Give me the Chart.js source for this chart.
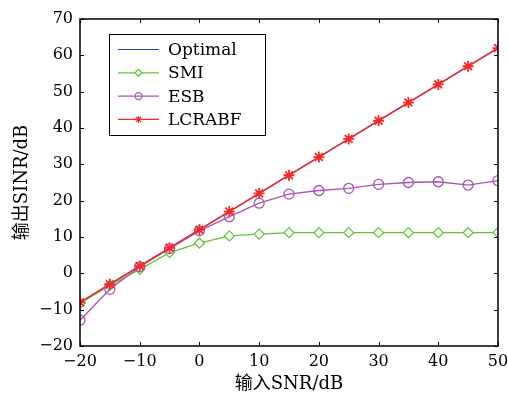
<!DOCTYPE html>
<html>
<head>
<meta charset="utf-8">
<script src="https://cdn.jsdelivr.net/npm/chart.js@4"></script>
<style>
  html, body { margin: 0; padding: 0; background: #fff; }
  #wrap { width: 508px; height: 401px; }
</style>
</head>
<body>
<div id="wrap"><canvas id="snrChart" width="508" height="401"></canvas></div>
<script>
// Data
const snrIn = [-20, -15, -10, -5, 0, 5, 10, 15, 20, 25, 30, 35, 40, 45, 50];
const optimal = [-8, -3, 2, 7, 12, 17, 22, 27, 32, 37, 42, 47, 52, 57, 62];
const smi = [-8.3, -3.3, 1.1, 5.7, 8.3, 10.3, 10.8, 11.2, 11.2, 11.2, 11.2, 11.2, 11.2, 11.2, 11.2];
const esb = [-12.9, -4.4, 1.8, 6.8, 11.7, 15.6, 19.3, 21.8, 22.8, 23.4, 24.5, 25.0, 25.2, 24.3, 25.5];
const lcrabf = [-8, -3, 2, 7, 12, 17, 22, 27, 32, 37, 42, 47, 52, 57, 62];
const seriesNames = ["Optimal", "SMI", "ESB", "LCRABF"];
const xTicks = [-20, -10, 0, 10, 20, 30, 40, 50];
const yTicks = [-20, -10, 0, 10, 20, 30, 40, 50, 60, 70];

const FONT = "'DejaVu Serif', 'Noto Sans CJK SC', serif";
const minus = v => (v < 0 ? "\u2212" + Math.abs(v) : String(v));

const toPts = arr => arr.map((y, i) => ({ x: snrIn[i], y: y }));

// box, inward ticks and legend
const frame = {
  id: "frame",
  afterDraw(chart) {
    const { ctx, chartArea: a, scales } = chart;
    ctx.save();
    ctx.strokeStyle = "#000";
    ctx.lineWidth = 1.5;
    ctx.strokeRect(a.left, a.top, a.right - a.left, a.bottom - a.top);
    ctx.lineWidth = 1;
    ctx.beginPath();
    xTicks.forEach(v => {
      const px = Math.round(scales.x.getPixelForValue(v)) + 0.5;
      ctx.moveTo(px, a.bottom); ctx.lineTo(px, a.bottom - 4);
      ctx.moveTo(px, a.top); ctx.lineTo(px, a.top + 4);
    });
    yTicks.forEach(v => {
      const py = Math.round(scales.y.getPixelForValue(v)) + 0.5;
      ctx.moveTo(a.left, py); ctx.lineTo(a.left + 4, py);
      ctx.moveTo(a.right, py); ctx.lineTo(a.right - 4, py);
    });
    ctx.stroke();

    // legend
    const bx = 109, by = 34, bw = 156, bh = 101;
    ctx.fillStyle = "#fff";
    ctx.fillRect(bx, by, bw, bh);
    ctx.strokeStyle = "#000";
    ctx.lineWidth = 1;
    ctx.strokeRect(bx + 0.5, by + 0.5, bw, bh);
    ctx.font = "17px " + FONT;
    ctx.textBaseline = "middle";
    chart.data.datasets.forEach((ds, i) => {
      const y = 49.5 + i * 23.3;
      ctx.strokeStyle = ds.borderColor;
      ctx.lineWidth = 1.2;
      ctx.beginPath();
      ctx.moveTo(118, y); ctx.lineTo(159, y);
      ctx.stroke();
      if (ds.pointStyle && ds.pointRadius > 0) {
        ctx.fillStyle = ds.backgroundColor;
        ctx.strokeStyle = ds.borderColor;
        ctx.lineWidth = 1.3;
        Chart.helpers.drawPoint(ctx, {
          pointStyle: ds.pointStyle,
          radius: 3.5,
          borderWidth: 1.3
        }, 138.5, y);
      }
      ctx.fillStyle = "#000";
      ctx.fillText(ds.label, 168, y + 1);
    });
    ctx.restore();
  }
};

new Chart(document.getElementById("snrChart"), {
  type: "line",
  data: {
    datasets: [
      {
        label: seriesNames[0], data: toPts(optimal), order: 3,
        borderColor: "#2348a8", borderWidth: 1.2, pointRadius: 0
      },
      {
        label: seriesNames[1], data: toPts(smi), order: 2,
        borderColor: "#5fc736", backgroundColor: "#fff", borderWidth: 1.3,
        pointStyle: "rectRot", pointRadius: 5, pointBorderWidth: 1.3
      },
      {
        label: seriesNames[2], data: toPts(esb), order: 1,
        borderColor: "#a855b5", backgroundColor: "rgba(255,255,255,0)", borderWidth: 1.3,
        pointStyle: "circle", pointRadius: 5, pointBorderWidth: 1.3
      },
      {
        label: seriesNames[3], data: toPts(lcrabf), order: 0,
        borderColor: "#f02a2a", backgroundColor: "#f02a2a", borderWidth: 1.5,
        pointStyle: "star", pointRadius: 5.5, pointBorderWidth: 1.8
      }
    ]
  },
  options: {
    responsive: false,
    animation: false,
    layout: { padding: { left: 8, right: 10, top: 19, bottom: 2 } },
    plugins: { legend: { display: false }, tooltip: { enabled: false } },
    elements: { line: { tension: 0 } },
    scales: {
      x: {
        type: "linear", min: -20, max: 50,
        afterBuildTicks: s => { s.ticks = xTicks.map(v => ({ value: v })); },
        afterFit: s => { s.height = 53; s.paddingLeft = 0; s.paddingRight = 0; },
        grid: { display: false, drawTicks: false },
        border: { display: false },
        ticks: { color: "#000", font: { family: FONT, size: 16 }, padding: 6, callback: v => minus(v) },
        title: { display: true, text: "输入SNR/dB", color: "#000", font: { family: FONT, size: 18 }, padding: { top: 4 } }
      },
      y: {
        type: "linear", min: -20, max: 70,
        afterBuildTicks: s => { s.ticks = yTicks.map(v => ({ value: v })); },
        afterFit: s => { s.width = 72; s.paddingTop = 0; s.paddingBottom = 0; },
        grid: { display: false, drawTicks: false },
        border: { display: false },
        ticks: { color: "#000", font: { family: FONT, size: 16 }, padding: 7, callback: v => minus(v) },
        title: { display: true, text: "输出SINR/dB", color: "#000", font: { family: FONT, size: 18 }, padding: { bottom: 4 } }
      }
    }
  },
  plugins: [frame]
});
</script>
</body>
</html>
